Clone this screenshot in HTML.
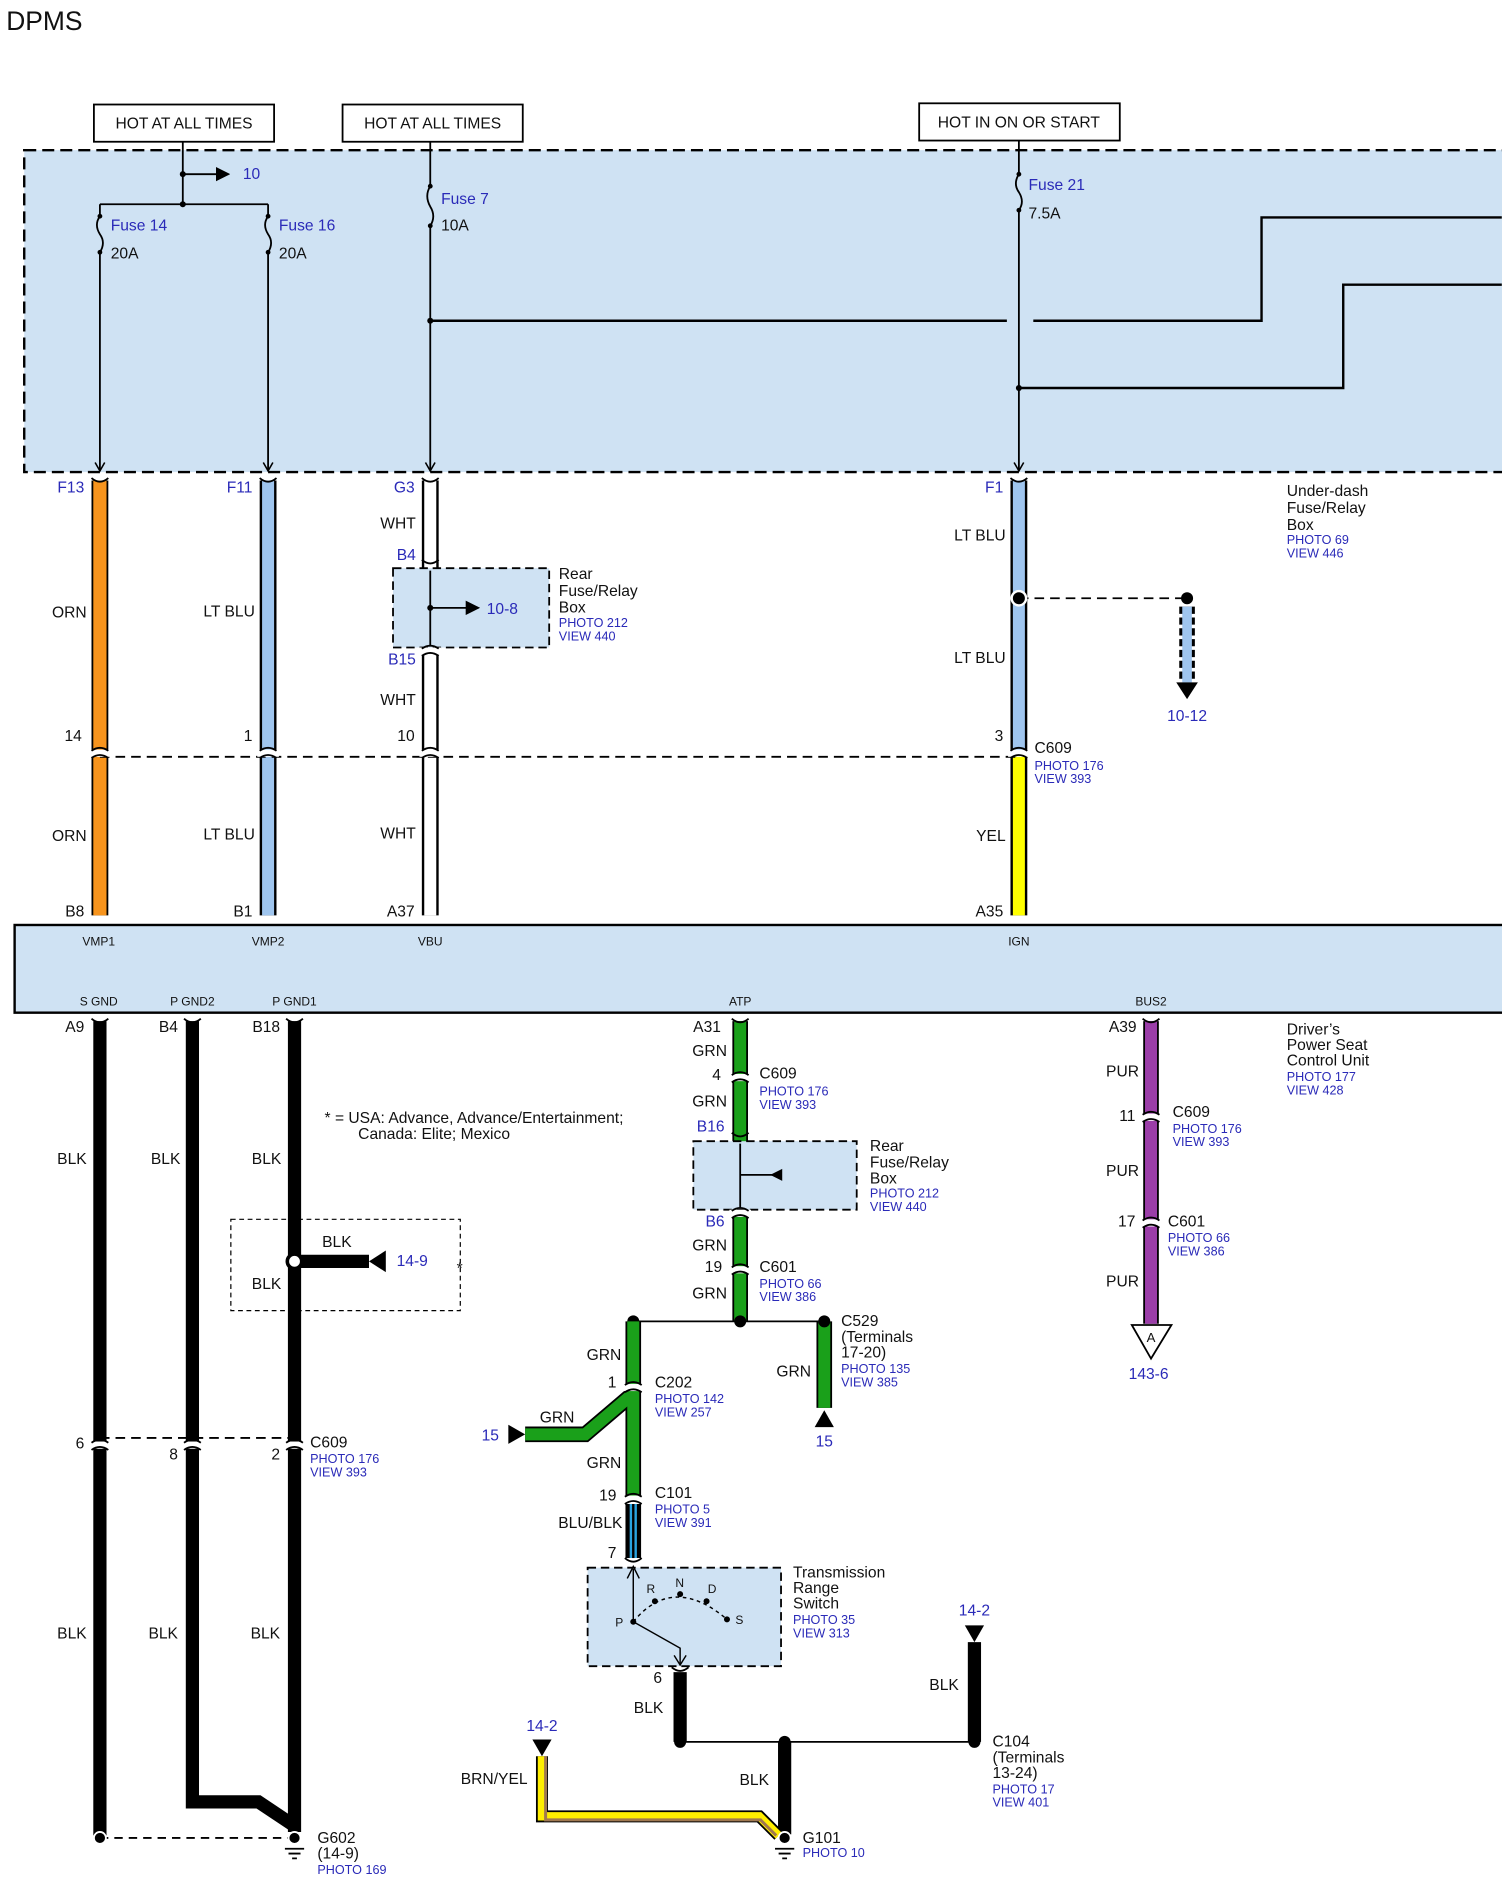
<!DOCTYPE html>
<html><head><meta charset="utf-8"><style>
html,body{margin:0;padding:0;background:#fff;}
svg{display:block;}
text{font-family:"Liberation Sans",sans-serif;}
.t{font-size:13px;fill:#111;}
.b{font-size:13px;fill:#2a2ab8;}
.s{font-size:10.5px;fill:#2a2ab8;}
.p{font-size:10px;fill:#111;}
</style></head><body>
<svg width="1502" height="1886" viewBox="0 0 1250 1570" xmlns="http://www.w3.org/2000/svg">
<defs>
<marker id="ah" markerWidth="8" markerHeight="8" refX="7" refY="4" orient="auto"><path d="M0,0 L8,4 L0,8 z" fill="#000"/></marker>
<marker id="av" markerWidth="10" markerHeight="10" refX="8" refY="5" orient="auto" markerUnits="userSpaceOnUse"><path d="M1,1 L8,5 L1,9" fill="none" stroke="#000" stroke-width="1.3"/></marker>
<g id="conn"><rect x="-9" y="-3" width="18" height="6" fill="#fff"/><path d="M-7,-2 Q0,-7 7,-2 M-7,4 Q0,-1 7,4" stroke="#000" stroke-width="1.5" fill="none"/></g>
<g id="pin"><path d="M-7,-4 Q0,2 7,-4" stroke="#000" stroke-width="1.5" fill="none"/></g>
</defs>
<text x="5" y="25" style="font-size:22px" fill="#111">DPMS</text>

<rect x="78" y="87" width="150" height="31" fill="#fff" stroke="#000" stroke-width="1.5"/>
<text x="153" y="107" class="t" text-anchor="middle">HOT AT ALL TIMES</text>
<rect x="285" y="87" width="150" height="31" fill="#fff" stroke="#000" stroke-width="1.5"/>
<text x="360" y="107" class="t" text-anchor="middle">HOT AT ALL TIMES</text>
<rect x="765" y="86" width="167" height="31" fill="#fff" stroke="#000" stroke-width="1.5"/>
<text x="848" y="106" class="t" text-anchor="middle">HOT IN ON OR START</text>

<rect x="20" y="125" width="1240" height="268" fill="#cfe2f3" stroke="#000" stroke-width="2" stroke-dasharray="10,5"/>
<g stroke="#000" stroke-width="1.5" fill="none">
<path d="M152,118 V170 M83,170 H223"/>
<path d="M152,145 H190" marker-end="url(#ah)"/>
<path d="M83,170 V180 Q78,187 83,195 Q88,202 83,210 V392" marker-end="url(#av)"/>
<path d="M223,170 V180 Q218,187 223,195 Q228,202 223,210 V392" marker-end="url(#av)"/>
<path d="M358,118 V155 Q353,163 358,172 Q363,180 358,188 V392" marker-end="url(#av)"/>
<path d="M848,117 V145 Q843,153 848,160 Q853,168 848,175 V392" marker-end="url(#av)"/>
<path d="M358,267 H838 M860,267 H1050 V181 H1250 M848,323 H1118 V237 H1250" stroke-width="2"/>
</g>
<g fill="#000"><circle cx="152" cy="145" r="2.5"/><circle cx="152" cy="170" r="2.5"/><circle cx="358" cy="267" r="2.5"/><circle cx="848" cy="323" r="2.5"/>
<circle cx="83" cy="180" r="2"/><circle cx="83" cy="210" r="2"/><circle cx="223" cy="180" r="2"/><circle cx="223" cy="210" r="2"/><circle cx="358" cy="155" r="2"/><circle cx="358" cy="188" r="2"/><circle cx="848" cy="145" r="2"/><circle cx="848" cy="175" r="2"/></g>
<text x="202" y="149" class="b">10</text>
<text x="92" y="192" class="b">Fuse 14</text><text x="92" y="215" class="t">20A</text>
<text x="232" y="192" class="b">Fuse 16</text><text x="232" y="215" class="t">20A</text>
<text x="367" y="170" class="b">Fuse 7</text><text x="367" y="192" class="t">10A</text>
<text x="856" y="158" class="b">Fuse 21</text><text x="856" y="182" class="t">7.5A</text>

<text x="70" y="410" class="b" text-anchor="end">F13</text>
<text x="210" y="410" class="b" text-anchor="end">F11</text>
<text x="345" y="410" class="b" text-anchor="end">G3</text>
<text x="835" y="410" class="b" text-anchor="end">F1</text>
<text x="1071" y="413" class="t">Under-dash</text><text x="1071" y="427" class="t">Fuse/Relay</text><text x="1071" y="441" class="t">Box</text>
<text x="1071" y="453" class="s">PHOTO 69</text><text x="1071" y="464" class="s">VIEW 446</text>

<g stroke-linecap="butt">
<line x1="83" y1="400" x2="83" y2="762" stroke="#000" stroke-width="14"/><line x1="83" y1="400" x2="83" y2="762" stroke="#f7941d" stroke-width="11"/>
<line x1="223" y1="400" x2="223" y2="762" stroke="#000" stroke-width="14"/><line x1="223" y1="400" x2="223" y2="762" stroke="#9fc5ee" stroke-width="10"/>
<line x1="358" y1="400" x2="358" y2="762" stroke="#000" stroke-width="14"/><line x1="358" y1="400" x2="358" y2="762" stroke="#fff" stroke-width="10"/>
<line x1="848" y1="400" x2="848" y2="625" stroke="#000" stroke-width="14"/><line x1="848" y1="400" x2="848" y2="625" stroke="#9fc5ee" stroke-width="10"/>
<line x1="848" y1="625" x2="848" y2="762" stroke="#000" stroke-width="14"/><line x1="848" y1="625" x2="848" y2="762" stroke="#ffff00" stroke-width="10"/>
</g>
<use href="#pin" x="83" y="402"/><use href="#pin" x="223" y="402"/><use href="#pin" x="358" y="402"/><use href="#pin" x="848" y="402"/>
<rect x="327" y="473" width="130" height="66" fill="#cfe2f3" stroke="#000" stroke-width="1.5" stroke-dasharray="7,4"/>
<use href="#pin" x="358" y="470"/><use href="#conn" x="358" y="542"/>
<path d="M358,475 V537 M358,506 H398" stroke="#000" stroke-width="1.5" marker-end="url(#ah)"/>
<circle cx="358" cy="506" r="2.5"/>
<text x="405" y="511" class="b">10-8</text>
<text x="465" y="482" class="t">Rear</text><text x="465" y="496" class="t">Fuse/Relay</text><text x="465" y="510" class="t">Box</text>
<text x="465" y="522" class="s">PHOTO 212</text><text x="465" y="533" class="s">VIEW 440</text>
<text x="346" y="466" class="b" text-anchor="end">B4</text><text x="346" y="553" class="b" text-anchor="end">B15</text>
<text x="346" y="440" class="t" text-anchor="end">WHT</text><text x="346" y="587" class="t" text-anchor="end">WHT</text>
<text x="72" y="514" class="t" text-anchor="end">ORN</text><text x="212" y="513" class="t" text-anchor="end">LT BLU</text>
<text x="837" y="450" class="t" text-anchor="end">LT BLU</text><text x="837" y="552" class="t" text-anchor="end">LT BLU</text>
<path d="M848,498 H988" stroke="#000" stroke-width="1.5" stroke-dasharray="8,5"/>
<circle cx="848" cy="498" r="6" fill="#000" stroke="#fff" stroke-width="2"/><circle cx="988" cy="498" r="5" fill="#000"/>
<line x1="988" y1="505" x2="988" y2="568" stroke="#000" stroke-width="13" stroke-dasharray="6,3"/>
<line x1="988" y1="505" x2="988" y2="568" stroke="#9fc5ee" stroke-width="8"/>
<path d="M979,568 H997 L988,582 z" fill="#000"/>
<text x="988" y="600" class="b" text-anchor="middle">10-12</text>

<path d="M83,630 H848" stroke="#000" stroke-width="1.5" stroke-dasharray="8,5"/>
<use href="#conn" x="83" y="627"/><use href="#conn" x="223" y="627"/><use href="#conn" x="358" y="627"/><use href="#conn" x="848" y="627"/>
<text x="68" y="617" class="t" text-anchor="end">14</text><text x="210" y="617" class="t" text-anchor="end">1</text>
<text x="345" y="617" class="t" text-anchor="end">10</text><text x="835" y="617" class="t" text-anchor="end">3</text>
<text x="861" y="627" class="t">C609</text><text x="861" y="641" class="s">PHOTO 176</text><text x="861" y="652" class="s">VIEW 393</text>
<text x="72" y="700" class="t" text-anchor="end">ORN</text><text x="212" y="699" class="t" text-anchor="end">LT BLU</text>
<text x="346" y="698" class="t" text-anchor="end">WHT</text><text x="837" y="700" class="t" text-anchor="end">YEL</text>
<text x="70" y="763" class="t" text-anchor="end">B8</text><text x="210" y="763" class="t" text-anchor="end">B1</text>
<text x="345" y="763" class="t" text-anchor="end">A37</text><text x="835" y="763" class="t" text-anchor="end">A35</text>

<rect x="12" y="770" width="1250" height="73" fill="#cfe2f3" stroke="#000" stroke-width="2"/>
<text x="82" y="787" class="p" text-anchor="middle">VMP1</text><text x="223" y="787" class="p" text-anchor="middle">VMP2</text>
<text x="358" y="787" class="p" text-anchor="middle">VBU</text><text x="848" y="787" class="p" text-anchor="middle">IGN</text>
<text x="82" y="837" class="p" text-anchor="middle">S GND</text><text x="160" y="837" class="p" text-anchor="middle">P GND2</text>
<text x="245" y="837" class="p" text-anchor="middle">P GND1</text><text x="616" y="837" class="p" text-anchor="middle">ATP</text>
<text x="958" y="837" class="p" text-anchor="middle">BUS2</text>
<text x="1071" y="861" class="t">Driver’s</text><text x="1071" y="874" class="t">Power Seat</text><text x="1071" y="887" class="t">Control Unit</text>
<text x="1071" y="900" class="s">PHOTO 177</text><text x="1071" y="911" class="s">VIEW 428</text>

<g stroke="#000" fill="none" stroke-width="11">
<line x1="83" y1="850" x2="83" y2="1528"/>
<path d="M160,850 V1500 H215 L245,1520"/>
<line x1="245" y1="850" x2="245" y2="1525"/>
</g>
<use href="#pin" x="83" y="852"/><use href="#pin" x="160" y="852"/><use href="#pin" x="245" y="852"/>
<text x="70" y="859" class="t" text-anchor="end">A9</text><text x="148" y="859" class="t" text-anchor="end">B4</text><text x="233" y="859" class="t" text-anchor="end">B18</text>
<text x="72" y="969" class="t" text-anchor="end">BLK</text><text x="150" y="969" class="t" text-anchor="end">BLK</text><text x="234" y="969" class="t" text-anchor="end">BLK</text>
<text x="270" y="935" class="t">* =  USA: Advance, Advance/Entertainment;</text>
<text x="298" y="948" class="t">Canada: Elite; Mexico</text>
<rect x="192" y="1015" width="191" height="76" fill="none" stroke="#000" stroke-dasharray="4,3"/>
<line x1="245" y1="1050" x2="307" y2="1050" stroke="#000" stroke-width="11"/>
<path d="M307,1050 L321,1041 V1059 z" fill="#000"/>
<circle cx="245" cy="1050" r="6" fill="#fff" stroke="#000" stroke-width="3"/>
<text x="330" y="1054" class="b">14-9</text><text x="380" y="1060" class="t">*</text>
<text x="268" y="1038" class="t">BLK</text><text x="234" y="1073" class="t" text-anchor="end">BLK</text>
<path d="M83,1197 H245" stroke="#000" stroke-width="1.5" stroke-dasharray="8,5"/>
<use href="#conn" x="83" y="1203"/><use href="#conn" x="160" y="1203"/><use href="#conn" x="245" y="1203"/>
<text x="70" y="1206" class="t" text-anchor="end">6</text><text x="148" y="1215" class="t" text-anchor="end">8</text><text x="233" y="1215" class="t" text-anchor="end">2</text>
<text x="258" y="1205" class="t">C609</text><text x="258" y="1218" class="s">PHOTO 176</text><text x="258" y="1229" class="s">VIEW 393</text>
<text x="72" y="1364" class="t" text-anchor="end">BLK</text><text x="148" y="1364" class="t" text-anchor="end">BLK</text><text x="233" y="1364" class="t" text-anchor="end">BLK</text>
<path d="M83,1530 H245" stroke="#000" stroke-width="1.5" stroke-dasharray="7,5"/>
<circle cx="83" cy="1530" r="5" fill="#000" stroke="#fff" stroke-width="1.5"/>
<circle cx="245" cy="1530" r="5" fill="#000" stroke="#fff" stroke-width="1.5"/>
<path d="M237,1539 H253 M240,1543 H250 M243,1547 H247" stroke="#000" stroke-width="1.5"/>
<text x="264" y="1534" class="t">G602</text><text x="264" y="1547" class="t">(14-9)</text><text x="264" y="1560" class="s">PHOTO 169</text>

<line x1="616" y1="850" x2="616" y2="1100" stroke="#000" stroke-width="13"/>
<line x1="616" y1="850" x2="616" y2="1100" stroke="#1aa01a" stroke-width="10"/>
<use href="#pin" x="616" y="852"/>
<text x="600" y="859" class="t" text-anchor="end">A31</text>
<text x="605" y="879" class="t" text-anchor="end">GRN</text>
<use href="#conn" x="616" y="897"/>
<text x="600" y="899" class="t" text-anchor="end">4</text>
<text x="632" y="898" class="t">C609</text><text x="632" y="912" class="s">PHOTO 176</text><text x="632" y="923" class="s">VIEW 393</text>
<text x="605" y="921" class="t" text-anchor="end">GRN</text>
<text x="603" y="942" class="b" text-anchor="end">B16</text>
<rect x="577" y="950" width="136" height="57" fill="#cfe2f3" stroke="#000" stroke-width="1.5" stroke-dasharray="7,4"/>
<use href="#pin" x="616" y="947"/><use href="#conn" x="616" y="1010"/>
<path d="M616,952 V1005 M616,978 H650" stroke="#000" stroke-width="1.5"/>
<path d="M641,978 L651,973 V983 z" fill="#000"/>
<text x="724" y="958" class="t">Rear</text><text x="724" y="972" class="t">Fuse/Relay</text><text x="724" y="985" class="t">Box</text>
<text x="724" y="997" class="s">PHOTO 212</text><text x="724" y="1008" class="s">VIEW 440</text>
<text x="603" y="1021" class="b" text-anchor="end">B6</text>
<text x="605" y="1041" class="t" text-anchor="end">GRN</text>
<use href="#conn" x="616" y="1057"/>
<text x="601" y="1059" class="t" text-anchor="end">19</text>
<text x="632" y="1059" class="t">C601</text><text x="632" y="1072" class="s">PHOTO 66</text><text x="632" y="1083" class="s">VIEW 386</text>
<text x="605" y="1081" class="t" text-anchor="end">GRN</text>
<path d="M527,1100 H686" stroke="#000" stroke-width="1.5"/>
<line x1="686" y1="1100" x2="686" y2="1172" stroke="#000" stroke-width="13"/><line x1="686" y1="1100" x2="686" y2="1172" stroke="#1aa01a" stroke-width="10"/>
<path d="M678,1188 L686,1174 L694,1188 z" fill="#000"/>
<text x="686" y="1204" class="b" text-anchor="middle">15</text>
<text x="675" y="1146" class="t" text-anchor="end">GRN</text>
<text x="700" y="1104" class="t">C529</text><text x="700" y="1117" class="t">(Terminals</text><text x="700" y="1130" class="t">17-20)</text>
<text x="700" y="1143" class="s">PHOTO 135</text><text x="700" y="1154" class="s">VIEW 385</text>
<circle cx="616" cy="1100" r="5" fill="#000"/><circle cx="527" cy="1100" r="5" fill="#000"/><circle cx="686" cy="1100" r="5" fill="#000"/>
<path d="M527,1100 V1245 M527,1160 L487,1194 H437" stroke="#000" stroke-width="13" fill="none"/>
<path d="M527,1100 V1245 M527,1160 L487,1194 H437" stroke="#1aa01a" stroke-width="10" fill="none"/>
<path d="M423,1186 L437,1194 L423,1202 z" fill="#000"/>
<text x="408" y="1199" class="b" text-anchor="middle">15</text>
<text x="478" y="1184" class="t" text-anchor="end">GRN</text>
<text x="517" y="1132" class="t" text-anchor="end">GRN</text>
<use href="#conn" x="527" y="1155"/><text x="513" y="1155" class="t" text-anchor="end">1</text>
<text x="545" y="1155" class="t">C202</text><text x="545" y="1168" class="s">PHOTO 142</text><text x="545" y="1179" class="s">VIEW 257</text>
<text x="517" y="1222" class="t" text-anchor="end">GRN</text>
<use href="#conn" x="527" y="1248"/><text x="513" y="1249" class="t" text-anchor="end">19</text>
<text x="545" y="1247" class="t">C101</text><text x="545" y="1260" class="s">PHOTO 5</text><text x="545" y="1271" class="s">VIEW 391</text>
<line x1="527" y1="1252" x2="527" y2="1297" stroke="#000" stroke-width="13"/>
<line x1="527" y1="1252" x2="527" y2="1297" stroke="#29a3e0" stroke-width="6"/>
<line x1="527" y1="1252" x2="527" y2="1297" stroke="#000" stroke-width="2"/>
<text x="518" y="1272" class="t" text-anchor="end">BLU/BLK</text>
<text x="513" y="1297" class="t" text-anchor="end">7</text>
<use href="#pin" x="527" y="1301"/>
<rect x="489" y="1305" width="161" height="82" fill="#cfe2f3" stroke="#000" stroke-width="1.5" stroke-dasharray="7,4"/>
<path d="M527,1306 V1350 L566,1372 V1385" stroke="#000" stroke-width="1.2" fill="none"/>
<path d="M522,1314 L527,1304 L532,1314 M561,1378 L566,1386 L571,1378" stroke="#000" stroke-width="1.2" fill="none"/>
<path d="M527,1350 Q560,1310 605,1348" stroke="#000" stroke-width="1.2" fill="none" stroke-dasharray="3,3"/>
<g fill="#000"><circle cx="527" cy="1350" r="2.5"/><circle cx="545" cy="1333" r="2.5"/><circle cx="566" cy="1327" r="2.5"/><circle cx="588" cy="1333" r="2.5"/><circle cx="605" cy="1348" r="2.5"/></g>
<g style="font-size:10px" fill="#111"><text x="512" y="1354">P</text><text x="538" y="1326">R</text><text x="562" y="1321">N</text><text x="589" y="1326">D</text><text x="612" y="1352">S</text></g>
<text x="660" y="1313" class="t">Transmission</text><text x="660" y="1326" class="t">Range</text><text x="660" y="1339" class="t">Switch</text>
<text x="660" y="1352" class="s">PHOTO 35</text><text x="660" y="1363" class="s">VIEW 313</text>
<text x="551" y="1401" class="t" text-anchor="end">6</text>
<use href="#pin" x="566" y="1392"/>
<line x1="566" y1="1392" x2="566" y2="1450" stroke="#000" stroke-width="11"/>
<text x="552" y="1426" class="t" text-anchor="end">BLK</text>
<path d="M566,1450 H811" stroke="#000" stroke-width="1.5"/>
<line x1="811" y1="1367" x2="811" y2="1450" stroke="#000" stroke-width="11"/>
<path d="M803,1353 H819 L811,1367 z" fill="#000"/>
<text x="811" y="1345" class="b" text-anchor="middle">14-2</text>
<text x="798" y="1407" class="t" text-anchor="end">BLK</text>
<line x1="653" y1="1450" x2="653" y2="1527" stroke="#000" stroke-width="11"/>
<circle cx="566" cy="1450" r="5" fill="#000"/><circle cx="653" cy="1450" r="5" fill="#000"/><circle cx="811" cy="1450" r="5" fill="#000"/>
<text x="826" y="1454" class="t">C104</text><text x="826" y="1467" class="t">(Terminals</text><text x="826" y="1480" class="t">13-24)</text>
<text x="826" y="1493" class="s">PHOTO 17</text><text x="826" y="1504" class="s">VIEW 401</text>
<text x="640" y="1486" class="t" text-anchor="end">BLK</text>
<path d="M451,1462 V1512 H632 L648,1528" stroke="#000" stroke-width="10" fill="none"/>
<path d="M451,1462 V1512 H632 L648,1528" stroke="#ffee00" stroke-width="7" fill="none"/>
<path d="M454,1462 V1515 H633 L646,1528" stroke="#a07850" stroke-width="2.5" fill="none"/>
<path d="M443,1448 H459 L451,1462 z" fill="#000"/>
<text x="451" y="1441" class="b" text-anchor="middle">14-2</text>
<text x="439" y="1485" class="t" text-anchor="end">BRN/YEL</text>
<circle cx="653" cy="1530" r="5" fill="#000" stroke="#fff" stroke-width="1.5"/>
<path d="M645,1539 H661 M648,1543 H658 M651,1547 H655" stroke="#000" stroke-width="1.5"/>
<text x="668" y="1534" class="t">G101</text><text x="668" y="1546" class="s">PHOTO 10</text>

<line x1="958" y1="850" x2="958" y2="1102" stroke="#000" stroke-width="13"/>
<line x1="958" y1="850" x2="958" y2="1102" stroke="#9b3ea8" stroke-width="10"/>
<use href="#pin" x="958" y="852"/>
<text x="946" y="859" class="t" text-anchor="end">A39</text>
<text x="948" y="896" class="t" text-anchor="end">PUR</text>
<use href="#conn" x="958" y="930"/><text x="945" y="933" class="t" text-anchor="end">11</text>
<text x="976" y="930" class="t">C609</text><text x="976" y="943" class="s">PHOTO 176</text><text x="976" y="954" class="s">VIEW 393</text>
<text x="948" y="979" class="t" text-anchor="end">PUR</text>
<use href="#conn" x="958" y="1018"/><text x="945" y="1021" class="t" text-anchor="end">17</text>
<text x="972" y="1021" class="t">C601</text><text x="972" y="1034" class="s">PHOTO 66</text><text x="972" y="1045" class="s">VIEW 386</text>
<text x="948" y="1071" class="t" text-anchor="end">PUR</text>
<path d="M942,1103 H975 L958,1131 z" fill="#fff" stroke="#000" stroke-width="1.5"/>
<text x="958" y="1117" style="font-size:11px" fill="#111" text-anchor="middle">A</text>
<text x="956" y="1148" class="b" text-anchor="middle">143-6</text>
</svg>
</body></html>
